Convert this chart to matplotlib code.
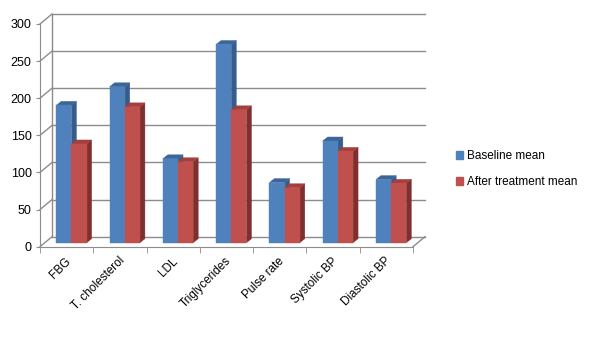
import matplotlib
matplotlib.use("Agg")
import matplotlib.pyplot as plt
from matplotlib.patches import Polygon, Patch

categories = ["FBG", "T. cholesterol", "LDL", "Triglycerides", "Pulse rate",
              "Systolic BP", "Diastolic BP"]
baseline = [185, 210, 113, 267, 81, 137, 85]
after = [133, 183, 109, 179, 74, 123, 80]
series_names = ["Baseline mean", "After treatment mean"]
yticks = [0, 50, 100, 150, 200, 250, 300]

blue = ("#4F81BD", "#3C6699", "#385D8A")   # front, top, side
red = ("#C0504D", "#A3403D", "#7F2F2D")
grid_col = "#8C8C8C"

plt.rcParams["font.family"] = ["Liberation Sans", "DejaVu Sans"]

fig = plt.figure(figsize=(6, 3.41), dpi=100)
ax = fig.add_axes([40 / 600, 1 - 246.7 / 341, 373 / 600, 222.7 / 341])
n = len(categories)
ax.set_xlim(0, n)
ax.set_ylim(0, 300)

# pixel -> data units
px_x = n / 373
px_y = 300 / 222.7
back_dx, back_dy = 12 * px_x, 10 * px_y
bar_dx, bar_dy = 4.8 * px_x, 4 * px_y
dep_dx, dep_dy = 5 * px_x, 4 * px_y
w = 0.285

# back wall and left wall grid
for v in yticks:
    ax.plot([back_dx, n + back_dx], [v + back_dy, v + back_dy],
            color=grid_col, lw=1, clip_on=False, zorder=1)
    ax.plot([0, back_dx], [v, v + back_dy], color=grid_col, lw=1,
            clip_on=False, zorder=1)
ax.plot([back_dx, back_dx], [back_dy, 300 + back_dy], color=grid_col, lw=1,
        clip_on=False, zorder=1)
ax.plot([n, n + back_dx], [0, back_dy], color=grid_col, lw=1,
        clip_on=False, zorder=1)


def bar3d(x0, h, cols):
    x0 = x0 + bar_dx
    y0 = bar_dy
    front = [(x0, y0), (x0 + w, y0), (x0 + w, y0 + h), (x0, y0 + h)]
    top = [(x0, y0 + h), (x0 + w, y0 + h), (x0 + w + dep_dx, y0 + h + dep_dy),
           (x0 + dep_dx, y0 + h + dep_dy)]
    side = [(x0 + w, y0), (x0 + w + dep_dx, y0 + dep_dy),
            (x0 + w + dep_dx, y0 + h + dep_dy), (x0 + w, y0 + h)]
    for pts, c in ((side, cols[2]), (top, cols[1]), (front, cols[0])):
        ax.add_patch(Polygon(pts, closed=True, facecolor=c, edgecolor=c,
                             lw=0.3, clip_on=False, zorder=3))


for i in range(n):
    bar3d(i + 0.5 - w, baseline[i], blue)
    bar3d(i + 0.5, after[i], red)

for s in ["top", "right"]:
    ax.spines[s].set_visible(False)
for s in ["left", "bottom"]:
    ax.spines[s].set_color(grid_col)
    ax.spines[s].set_zorder(2)

ax.set_yticks(yticks)
ax.tick_params(axis="y", length=3, color=grid_col, labelsize=9, pad=3,
               labelcolor="#000000")
ax.set_xticks(range(n + 1), minor=True)
ax.tick_params(axis="x", which="minor", length=4, color=grid_col)
ax.set_xticks([i + 0.5 + 0.05 for i in range(n)])
ax.set_xticklabels(categories, rotation=45, ha="right", va="center",
                   rotation_mode="anchor", fontsize=8.5)
ax.tick_params(axis="x", which="major", length=0, pad=9)

handles = [Patch(facecolor=blue[0], edgecolor=blue[0]),
           Patch(facecolor=red[0], edgecolor=red[0])]
fig.legend(handles, series_names, loc="center left",
           bbox_to_anchor=(445 / 600, 1 - 169 / 341), frameon=False,
           fontsize=8.5, handlelength=0.6, handleheight=0.6,
           handletextpad=0.4, labelspacing=1.2)

fig.savefig("out.png", dpi=100)
